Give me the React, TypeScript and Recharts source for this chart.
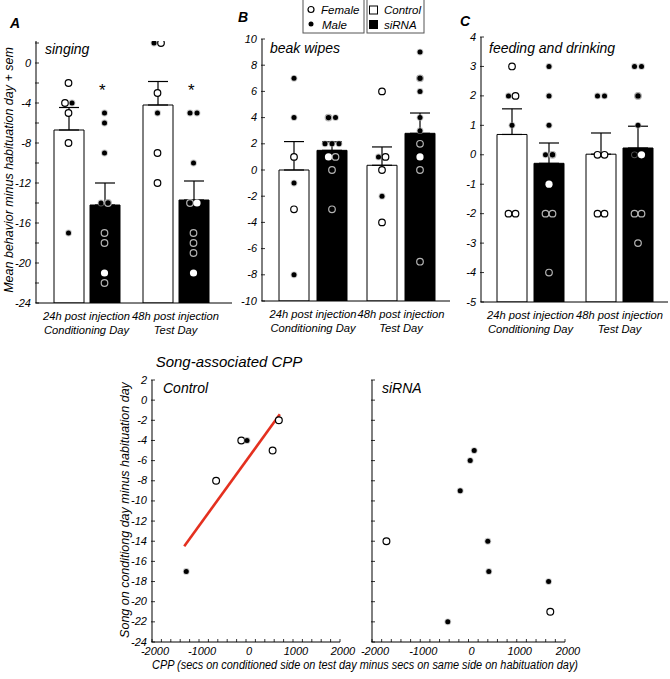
import React from 'react'
import { ComposedChart, ScatterChart, Bar, ErrorBar, Scatter, XAxis, YAxis, ReferenceLine } from 'recharts'

const FONT = "'Liberation Sans', Arial, sans-serif"
const FONT_N = "'Liberation Sans Narrow', 'Liberation Sans', Arial, sans-serif"
const BAR = 30

type Sex = 'f' | 'm' | 'w'
type Pt = [number, Sex]

const groups = ['24h', '48h']
const groupLine1 = ['24h post injection', '48h post injection']
const groupLine2 = ['Conditioning Day', 'Test Day']

// singing
const singingCtlMean = [-6.7, -4.2]
const singingCtlSem = [2.25, 2.35]
const singingSiMean = [-14.2, -13.7]
const singingSiSem = [2.2, 1.9]
const singingCtl24: Pt[] = [[-2, 'f'], [-4, 'f'], [-4, 'm'], [-5, 'f'], [-8, 'f'], [-17, 'm']]
const singingSi24: Pt[] = [[-5, 'm'], [-6, 'm'], [-9, 'm'], [-14, 'm'], [-14, 'f'], [-17, 'f'], [-18, 'f'], [-21, 'w'], [-22, 'f']]
const singingCtl48: Pt[] = [[2, 'm'], [2, 'f'], [-3, 'f'], [-5, 'm'], [-9, 'f'], [-12, 'f']]
const singingSi48: Pt[] = [[-5, 'm'], [-5, 'm'], [-10, 'm'], [-14, 'f'], [-14, 'w'], [-17, 'f'], [-18, 'f'], [-19, 'f'], [-21, 'w']]
const singingStars = [-2.5, -2.5]
const singingTicks = [-24, -22, -20, -18, -16, -14, -12, -10, -8, -6, -4, -2, 0, 2]

// beak wipes
const beakCtlMean = [0, 0.36]
const beakCtlSem = [2.17, 1.4]
const beakSiMean = [1.5, 2.8]
const beakSiSem = [0.65, 1.55]
const beakCtl24: Pt[] = [[7, 'm'], [4, 'm'], [1, 'f'], [-1, 'm'], [-3, 'f'], [-8, 'm']]
const beakSi24: Pt[] = [[4, 'f'], [4, 'm'], [2, 'm'], [2, 'm'], [2, 'm'], [1, 'w'], [1, 'f'], [0, 'f'], [-3, 'f']]
const beakCtl48: Pt[] = [[6, 'f'], [1, 'm'], [1, 'f'], [0, 'f'], [-2, 'm'], [-4, 'f']]
const beakSi48: Pt[] = [[9, 'm'], [7, 'f'], [6, 'm'], [4, 'm'], [3, 'm'], [2, 'f'], [1, 'w'], [0, 'f'], [-7, 'f']]
const beakTicks = [-10, -8, -6, -4, -2, 0, 2, 4, 6, 8, 10]

// feeding and drinking
const feedCtlMean = [0.69, 0.02]
const feedCtlSem = [0.87, 0.72]
const feedSiMean = [-0.29, 0.23]
const feedSiSem = [0.69, 0.74]
const feedCtl24: Pt[] = [[3, 'f'], [2, 'm'], [2, 'f'], [1, 'm'], [-2, 'f'], [-2, 'f']]
const feedSi24: Pt[] = [[3, 'm'], [2, 'm'], [1, 'm'], [0, 'm'], [0, 'f'], [-1, 'w'], [-2, 'f'], [-2, 'f'], [-4, 'f']]
const feedCtl48: Pt[] = [[2, 'm'], [2, 'm'], [0, 'f'], [0, 'f'], [-2, 'f'], [-2, 'f']]
const feedSi48: Pt[] = [[3, 'm'], [3, 'm'], [2, 'f'], [1, 'm'], [0, 'm'], [0, 'w'], [-2, 'f'], [-2, 'f'], [-3, 'f']]
const feedTicks = [-5, -4, -3, -2, -1, 0, 1, 2, 3, 4]

// song-associated CPP
const cppCtlX = [-1271, -636, -100, 21, 566, 699]
const cppCtlSong = [-17, -8, -4, -4, -5, -2]
const cppCtlSex: Sex[] = ['m', 'f', 'f', 'm', 'f', 'f']
const cppSiX = [118, 35, -172, -1701, 400, 421, 1660, 1695, -429]
const cppSiSong = [-5, -6, -9, -14, -14, -17, -18, -21, -22]
const cppSiSex: Sex[] = ['m', 'm', 'm', 'f', 'm', 'm', 'm', 'f', 'm']
const fitX = [-1314, 720]
const fitY = [-14.5, -1.4]
const cppTicks = [-2000, -1800, -1600, -1400, -1200, -1000, -800, -600, -400, -200, 0, 200, 400, 600, 800, 1000, 1200, 1400, 1600, 1800, 2000]
const songTicks = [-24, -22, -20, -18, -16, -14, -12, -10, -8, -6, -4, -2, 0, 2]

function buildPoints(ctl: Pt[][], si: Pt[][]) {
  const out: any[] = []
  ;[ctl, si].forEach((arm, a) =>
    arm.forEach((list, g) => {
      const counts: Record<number, number> = {}
      list.forEach(([v]) => (counts[v] = (counts[v] || 0) + 1))
      const seen: Record<number, number> = {}
      list.forEach(([v, sex]) => {
        const k = seen[v] || 0
        seen[v] = k + 1
        out.push({ x: g + 0.5, y: v, sex, side: a === 0 ? -1 : 1, dodge: k - (counts[v] - 1) / 2, dark: a === 1 })
      })
    })
  )
  return out
}

const YTick = (props: any) => {
  const { x, y, payload, every, labels = true } = props
  const v = payload.value
  return (
    <g>
      <line x1={x - 1} x2={x + 3} y1={y} y2={y} stroke="#000" strokeWidth={0.8} />
      {labels && Math.abs(v % every) === 0 && (
        <text x={x - 5} y={y} dy={3.5} textAnchor="end" fontSize={11} fontStyle="italic" fontFamily={FONT_N}>
          {v}
        </text>
      )}
    </g>
  )
}

const CatTick = (props: any) => {
  const { x, y, payload } = props
  const i = groups.indexOf(payload.value)
  return (
    <g fontSize={11.2} fontStyle="italic" fontFamily={FONT} textAnchor="middle">
      <text x={x} y={y + 17}>{groupLine1[i]}</text>
      <text x={x} y={y + 31}>{groupLine2[i]}</text>
    </g>
  )
}

const CppTick = (props: any) => {
  const { x, y, payload } = props
  const v = payload.value
  return (
    <g>
      <line x1={x} x2={x} y1={y} y2={y - 3} stroke="#000" strokeWidth={0.8} />
      {v % 1000 === 0 && (
        <text x={x + 3} y={y + 13} textAnchor="middle" fontSize={11} fontStyle="italic" fontFamily={FONT_N}>
          {v}
        </text>
      )}
    </g>
  )
}

const PanelDot = (props: any) => {
  const { cx, cy, payload, sideOff } = props
  if (cx == null || cy == null) return <g />
  const x = cx + payload.side * sideOff + payload.dodge * 7
  if (payload.sex === 'm')
    return (
      <g>
        <circle cx={x} cy={cy} r={3.4} fill="#999" opacity={0.55} />
        <circle cx={x} cy={cy} r={2.5} fill="#000" />
      </g>
    )
  if (payload.sex === 'w') return <circle cx={x} cy={cy} r={3.6} fill="#fff" />
  return (
    <circle
      cx={x}
      cy={cy}
      r={3.3}
      fill={payload.dark ? '#000' : '#fff'}
      stroke={payload.dark ? '#b4b4b4' : '#000'}
      strokeWidth={1.2}
    />
  )
}

const CppDot = (props: any) => {
  const { cx, cy, payload } = props
  if (cx == null || cy == null) return <g />
  if (payload.sex === 'm')
    return (
      <g>
        <circle cx={cx} cy={cy} r={3.4} fill="#999" opacity={0.55} />
        <circle cx={cx} cy={cy} r={2.5} fill="#000" />
      </g>
    )
  return <circle cx={cx} cy={cy} r={3.4} fill="#fff" stroke="#000" strokeWidth={1.2} />
}

function BarPanel(props: any) {
  const { left, width, height, margin, domain, ticks, every, padL, padR, gap, ctlMean, ctlSem, siMean, siSem, points, stars } = props
  const base = domain[0]
  const data = groups.map((g, i) => ({
    g,
    ctl: [base, ctlMean[i]],
    ctlErr: [0, ctlSem[i]],
    si: [base, siMean[i]],
    siErr: [0, siSem[i]],
  }))
  const sideOff = (BAR + gap) / 2
  const starData = stars ? stars.map((v: number, i: number) => ({ x: i + 0.5, y: v })) : []
  return (
    <div style={{ position: 'absolute', left, top: 0 }}>
      <ComposedChart width={width} height={height} data={data} margin={margin} barGap={gap} barSize={BAR}>
        <XAxis
          dataKey="g"
          padding={{ left: padL, right: padR }}
          axisLine={{ stroke: '#000' }}
          tickLine={false}
          tickSize={0}
          tickMargin={0}
          tick={<CatTick />}
          height={35}
          interval={0}
        />
        <XAxis xAxisId="num" type="number" dataKey="x" domain={[0, 2]} padding={{ left: padL, right: padR }} hide allowDataOverflow />
        <YAxis
          type="number"
          domain={domain}
          ticks={ticks}
          interval={0}
          width={30}
          tickSize={0}
          tickMargin={0}
          tickLine={false}
          axisLine={{ stroke: '#000' }}
          tick={<YTick every={every} />}
          allowDataOverflow
        />
        <Bar dataKey="ctl" fill="#fff" stroke="#000" strokeWidth={1} isAnimationActive={false}>
          <ErrorBar dataKey="ctlErr" direction="y" width={10} stroke="#000" strokeWidth={1.2} />
        </Bar>
        <Bar dataKey="si" fill="#000" stroke="#000" strokeWidth={1} isAnimationActive={false}>
          <ErrorBar dataKey="siErr" direction="y" width={10} stroke="#000" strokeWidth={1.2} />
        </Bar>
        <Scatter
          xAxisId="num"
          data={points}
          dataKey="y"
          isAnimationActive={false}
          shape={(p: any) => <PanelDot {...p} sideOff={sideOff} />}
        />
        {stars && (
          <Scatter
            xAxisId="num"
            data={starData}
            dataKey="y"
            isAnimationActive={false}
            shape={(p: any) =>
              p.cx == null ? <g /> : (
                <text x={p.cx + sideOff - 3} y={p.cy + 8} textAnchor="middle" fontSize={17} fontStyle="italic" fontFamily={FONT}>
                  *
                </text>
              )
            }
          />
        )}
      </ComposedChart>
    </div>
  )
}

function CppPanel(props: any) {
  const { left, width, margin, xs, ys, sexes, labels, fit } = props
  const pts = xs.map((x: number, i: number) => ({ x, y: ys[i], sex: sexes[i] }))
  return (
    <div style={{ position: 'absolute', left, top: 340 }}>
      <ScatterChart width={width} height={339} margin={margin}>
        <XAxis
          type="number"
          dataKey="x"
          domain={[-2000, 2000]}
          ticks={cppTicks}
          interval={0}
          tickSize={0}
          tickMargin={0}
          tickLine={false}
          axisLine={{ stroke: '#000' }}
          tick={<CppTick />}
          height={20}
          allowDataOverflow
        />
        <YAxis
          type="number"
          dataKey="y"
          domain={[-24, 2]}
          ticks={songTicks}
          interval={0}
          width={30}
          tickSize={0}
          tickMargin={0}
          tickLine={false}
          axisLine={{ stroke: '#000' }}
          tick={<YTick every={2} labels={labels} />}
          allowDataOverflow
        />
        {fit && (
          <ReferenceLine
            segment={[
              { x: fitX[0], y: fitY[0] },
              { x: fitX[1], y: fitY[1] },
            ]}
            stroke="#e4301f"
            strokeWidth={2.6}
          />
        )}
        <Scatter data={pts} isAnimationActive={false} shape={<CppDot />} />
      </ScatterChart>
    </div>
  )
}

const ital = { fontStyle: 'italic' as const, fontFamily: FONT }

export default function App() {
  return (
    <div style={{ position: 'absolute', left: 0, top: 0, width: 670, height: 679, background: '#fff', overflow: 'hidden' }}>
      <BarPanel
        left={0}
        width={235}
        height={340}
        margin={{ top: 41, right: 3, bottom: 2, left: 6 }}
        domain={[-24, 2.2]}
        ticks={singingTicks}
        every={4}
        padL={6}
        padR={12}
        gap={6}
        ctlMean={singingCtlMean}
        ctlSem={singingCtlSem}
        siMean={singingSiMean}
        siSem={singingSiSem}
        points={buildPoints([singingCtl24, singingCtl48], [singingSi24, singingSi48])}
        stars={singingStars}
      />
      <BarPanel
        left={225}
        width={230}
        height={340}
        margin={{ top: 39, right: 5, bottom: 4, left: 7 }}
        domain={[-10, 10]}
        ticks={beakTicks}
        every={2}
        padL={7}
        padR={5}
        gap={8}
        ctlMean={beakCtlMean}
        ctlSem={beakCtlSem}
        siMean={beakSiMean}
        siSem={beakSiSem}
        points={buildPoints([beakCtl24, beakCtl48], [beakSi24, beakSi48])}
      />
      <BarPanel
        left={445}
        width={225}
        height={340}
        margin={{ top: 37, right: 2, bottom: 3, left: 6 }}
        domain={[-5, 4]}
        ticks={feedTicks}
        every={1}
        padL={5}
        padR={4}
        gap={7}
        ctlMean={feedCtlMean}
        ctlSem={feedCtlSem}
        siMean={feedSiMean}
        siSem={feedSiSem}
        points={buildPoints([feedCtl24, feedCtl48], [feedSi24, feedSi48])}
      />
      <CppPanel
        left={100}
        width={265}
        margin={{ top: 40, right: 25, bottom: 17, left: 22 }}
        xs={cppCtlX}
        ys={cppCtlSong}
        sexes={cppCtlSex}
        labels
        fit
      />
      <CppPanel
        left={340}
        width={250}
        margin={{ top: 40, right: 25, bottom: 17, left: 2 }}
        xs={cppSiX}
        ys={cppSiSong}
        sexes={cppSiSex}
        labels={false}
      />
      <svg width={670} height={679} style={{ position: 'absolute', left: 0, top: 0, pointerEvents: 'none' }}>
        <g fontWeight="bold" fontSize={14} {...ital}>
          <text x={10} y={28}>A</text>
          <text x={238} y={22}>B</text>
          <text x={460} y={26}>C</text>
        </g>
        <g fontSize={14} {...ital}>
          <text x={45} y={54}>singing</text>
          <text x={270} y={53}>beak wipes</text>
          <text x={489} y={53}>feeding and drinking</text>
        </g>
        <text transform="translate(13,170) rotate(-90)" textAnchor="middle" fontSize={12.5} {...ital}>
          Mean behavior minus habituation day + sem
        </text>
        <text x={229} y={367} textAnchor="middle" fontSize={15} {...ital}>
          Song-associated CPP
        </text>
        <text x={163} y={393} fontSize={14} {...ital}>
          Control
        </text>
        <text x={382} y={393} fontSize={14} {...ital}>
          siRNA
        </text>
        <text transform="translate(129,510) rotate(-90)" textAnchor="middle" fontSize={12.5} {...ital}>
          Song on conditiong day minus habituation day
        </text>
        <text x={152} y={669} fontSize={12} textLength={426} lengthAdjust="spacingAndGlyphs" {...ital}>
          CPP (secs on conditioned side on test day minus secs on same side on habituation day)
        </text>
        <g fontSize={11.5} {...ital}>
          <rect x={303} y={-1} width={61} height={34} fill="#fff" stroke="#555" />
          <circle cx={311} cy={9.5} r={3} fill="#fff" stroke="#000" strokeWidth={1.2} />
          <text x={321} y={13.5}>Female</text>
          <circle cx={311} cy={24} r={2.5} fill="#000" />
          <text x={322} y={28.5}>Male</text>
          <rect x={367} y={-1} width={57} height={34} fill="#fff" stroke="#555" />
          <rect x={369.5} y={6} width={8} height={8} fill="#fff" stroke="#000" />
          <text x={384} y={13.5}>Control</text>
          <rect x={369.5} y={20.5} width={8} height={8} fill="#000" stroke="#000" />
          <text x={384} y={28.5}>siRNA</text>
        </g>
      </svg>
    </div>
  )
}
